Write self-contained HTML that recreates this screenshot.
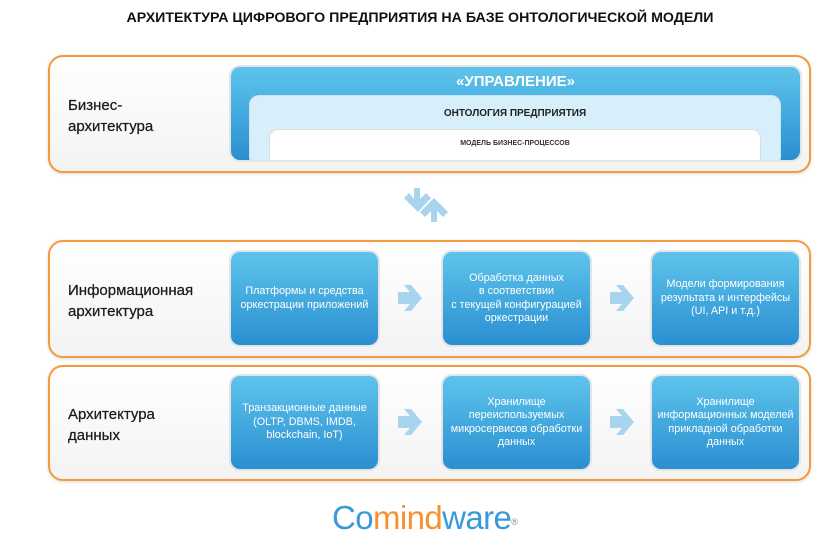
<!DOCTYPE html>
<html><head><meta charset="utf-8"><style>
*{margin:0;padding:0;box-sizing:border-box}
body{width:840px;height:549px;background:#fff;position:relative;overflow:hidden;font-family:"Liberation Sans","DejaVu Sans",sans-serif}
.a{position:absolute}
.title{left:0;width:840px;top:10px;text-align:center;font-weight:bold;font-size:14.2px;color:#111}
.panel{left:48px;width:763px;border:2px solid #f39a3c;border-radius:15px;background:linear-gradient(#ffffff,#f3f3f3);box-shadow:0 1px 3px rgba(0,0,0,.15)}
.lbl{left:68px;font-size:15px;line-height:21px;color:#1a1a1a;-webkit-text-stroke:0.25px #1a1a1a}
.box{width:147px;height:93px;border-radius:9px;background:linear-gradient(#5ec4ec,#2a8fd0);box-shadow:0 0 0 2px #e4e4e4;color:#fff;font-size:10.8px;line-height:13.5px;display:flex;align-items:center;justify-content:center;text-align:center}
</style></head><body>
<div class="a title">АРХИТЕКТУРА ЦИФРОВОГО ПРЕДПРИЯТИЯ НА БАЗЕ ОНТОЛОГИЧЕСКОЙ МОДЕЛИ</div>

<div class="a panel" style="top:55px;height:118px"></div>
<div class="a lbl" style="top:95px">Бизнес-<br>архитектура</div>
<div class="a" style="left:231px;top:67px;width:569px;height:93px;border-radius:9px;background:linear-gradient(#5ec4ec,#2a8fd0);box-shadow:0 0 0 2px #e4e4e4;overflow:hidden">
  <div class="a" style="left:0;width:569px;top:6px;text-align:center;color:#fff;font-weight:bold;font-size:15px">«УПРАВЛЕНИЕ»</div>
  <div class="a" style="left:19px;top:29px;width:530px;height:70px;border-radius:9px;background:#d6effb;box-shadow:0 0 0 1px #cfe3ee">
    <div class="a" style="left:0;width:530px;top:12px;text-align:center;font-weight:bold;font-size:10px;color:#222">ОНТОЛОГИЯ ПРЕДПРИЯТИЯ</div>
    <div class="a" style="left:20px;top:34px;width:490px;height:40px;border-radius:8px;background:#fff;box-shadow:0 0 0 1px #ddd">
      <div class="a" style="left:0;width:490px;top:10px;text-align:center;font-weight:bold;font-size:7px;color:#333">МОДЕЛЬ БИЗНЕС-ПРОЦЕССОВ</div>
    </div>
  </div>
</div>

<svg class="a" style="left:400px;top:185px" width="60" height="40">
<polygon points="14,3 20,3 20,14 26,8 31,13 18,27 4,13 9,8 14,14" fill="#a9d4ee"/>
<polygon points="31,37 37,37 37,26 43,32 48,27 34,13 20,27 25,32 31,26" fill="#a9d4ee"/>
</svg>

<div class="a panel" style="top:240px;height:118px"></div>
<div class="a lbl" style="top:280px">Информационная<br>архитектура</div>
<div class="a box" style="left:231px;top:252px">Платформы и средства<br>оркестрации приложений</div>
<div class="a box" style="left:443px;top:252px">Обработка данных<br>в соответствии<br>с текущей конфигурацией<br>оркестрации</div>
<div class="a box" style="left:652px;top:252px">Модели формирования<br>результата и интерфейсы<br>(UI, API и т.д.)</div>

<div class="a panel" style="top:365px;height:116px"></div>
<div class="a lbl" style="top:404px">Архитектура<br>данных</div>
<div class="a box" style="left:231px;top:376px">Транзакционные данные<br>(OLTP, DBMS, IMDB,<br>blockchain, IoT)</div>
<div class="a box" style="left:443px;top:376px">Хранилище<br>переиспользуемых<br>микросервисов обработки<br>данных</div>
<div class="a box" style="left:652px;top:376px">Хранилище<br>информационных моделей<br>прикладной обработки<br>данных</div>

<svg class="a" style="left:0;top:0" width="840" height="549">
<g fill="#a9d4ee">
<polygon points="398,292 410,292 404,285 411,285 422,298 411,311 404,311 410,304 398,304"/>
<polygon points="610,292 622,292 616,285 623,285 634,298 623,311 616,311 622,304 610,304"/>
<polygon points="398,416 410,416 404,409 411,409 422,422 411,435 404,435 410,428 398,428"/>
<polygon points="610,416 622,416 616,409 623,409 634,422 623,435 616,435 622,428 610,428"/>
</g>
</svg>

<div class="a" style="left:332px;top:498px;font-size:33px;letter-spacing:-0.6px;color:#3a9ad9;line-height:40px">Co<span style="color:#f4932f">mind</span>ware<sup style="font-size:9px;vertical-align:top;position:relative;top:4px;color:#888">®</sup></div>
</body></html>
